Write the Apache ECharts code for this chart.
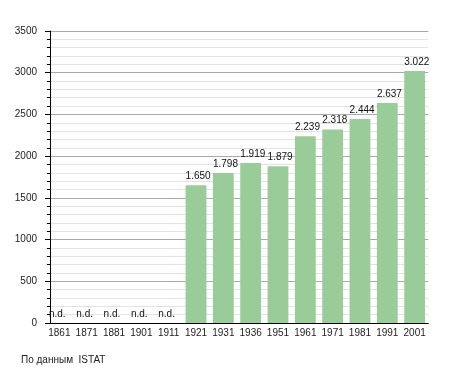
<!DOCTYPE html>
<html>
<head>
<meta charset="utf-8">
<script src="https://cdn.jsdelivr.net/npm/echarts@6/dist/echarts.min.js"></script>
<style>
html,body{margin:0;padding:0;background:#fff;}
#chart{width:455px;height:373px;}
</style>
</head>
<body>
<div id="chart"></div>
<script>
const years = ['1861','1871','1881','1901','1911','1921','1931','1936','1951','1961','1971','1981','1991','2001'];
const population = [null,null,null,null,null,1650,1798,1919,1879,2239,2318,2444,2637,3022];
const yTicks = [0,500,1000,1500,2000,2500,3000,3500];
const sourceText = 'По данным  ISTAT';

const FONT = '"Liberation Sans", Arial, sans-serif';
const chart = echarts.init(document.getElementById('chart'), null, {renderer:'canvas'});

function fmt(v){
  return String(v).replace(/\B(?=(\d{3})+(?!\d))/g, '.');
}

chart.setOption({
  animation:false,
  backgroundColor:'#fff',
  grid:{left:45.7, right:26.7, top:31, bottom:50, containLabel:false},
  xAxis:{
    type:'category',
    data:years,
    boundaryGap:true,
    axisLine:{show:true, lineStyle:{color:'#000', width:1}},
    axisTick:{show:false},
    axisLabel:{color:'#222', fontSize:10, fontFamily:FONT, margin:5, interval:0},
    splitLine:{show:false}
  },
  yAxis:{
    type:'value',
    min:yTicks[0],
    max:yTicks[yTicks.length-1],
    interval:500,
    offset:-4.3,
    axisLine:{show:true, lineStyle:{color:'#000', width:1}},
    axisTick:{show:true, length:5, lineStyle:{color:'#000'}},
    minorTick:{show:true, splitNumber:5, length:3, lineStyle:{color:'#000'}},
    axisLabel:{color:'#222', fontSize:10, fontFamily:FONT, margin:13, formatter:v => String(v)},
    splitLine:{show:true, lineStyle:{color:'#aaaaaa', width:1}},
    minorSplitLine:{show:true, lineStyle:{color:'#e3e3e3', width:1}}
  },
  series:[{
    type:'bar',
    data:population.map(v => v === null ? 0 : v),
    barWidth:20.8,
    itemStyle:{color:'#99cc99'},
    label:{
      show:true,
      position:[0,-14],
      color:'#111',
      fontSize:10,
      fontFamily:FONT,
      formatter:p => population[p.dataIndex] === null ? 'n.d.' : fmt(p.value)
    }
  }],
  graphic:[{
    type:'text',
    left:21,
    top:355,
    style:{text:sourceText, fill:'#222', font:'10px ' + FONT}
  }]
});
</script>
</body>
</html>
